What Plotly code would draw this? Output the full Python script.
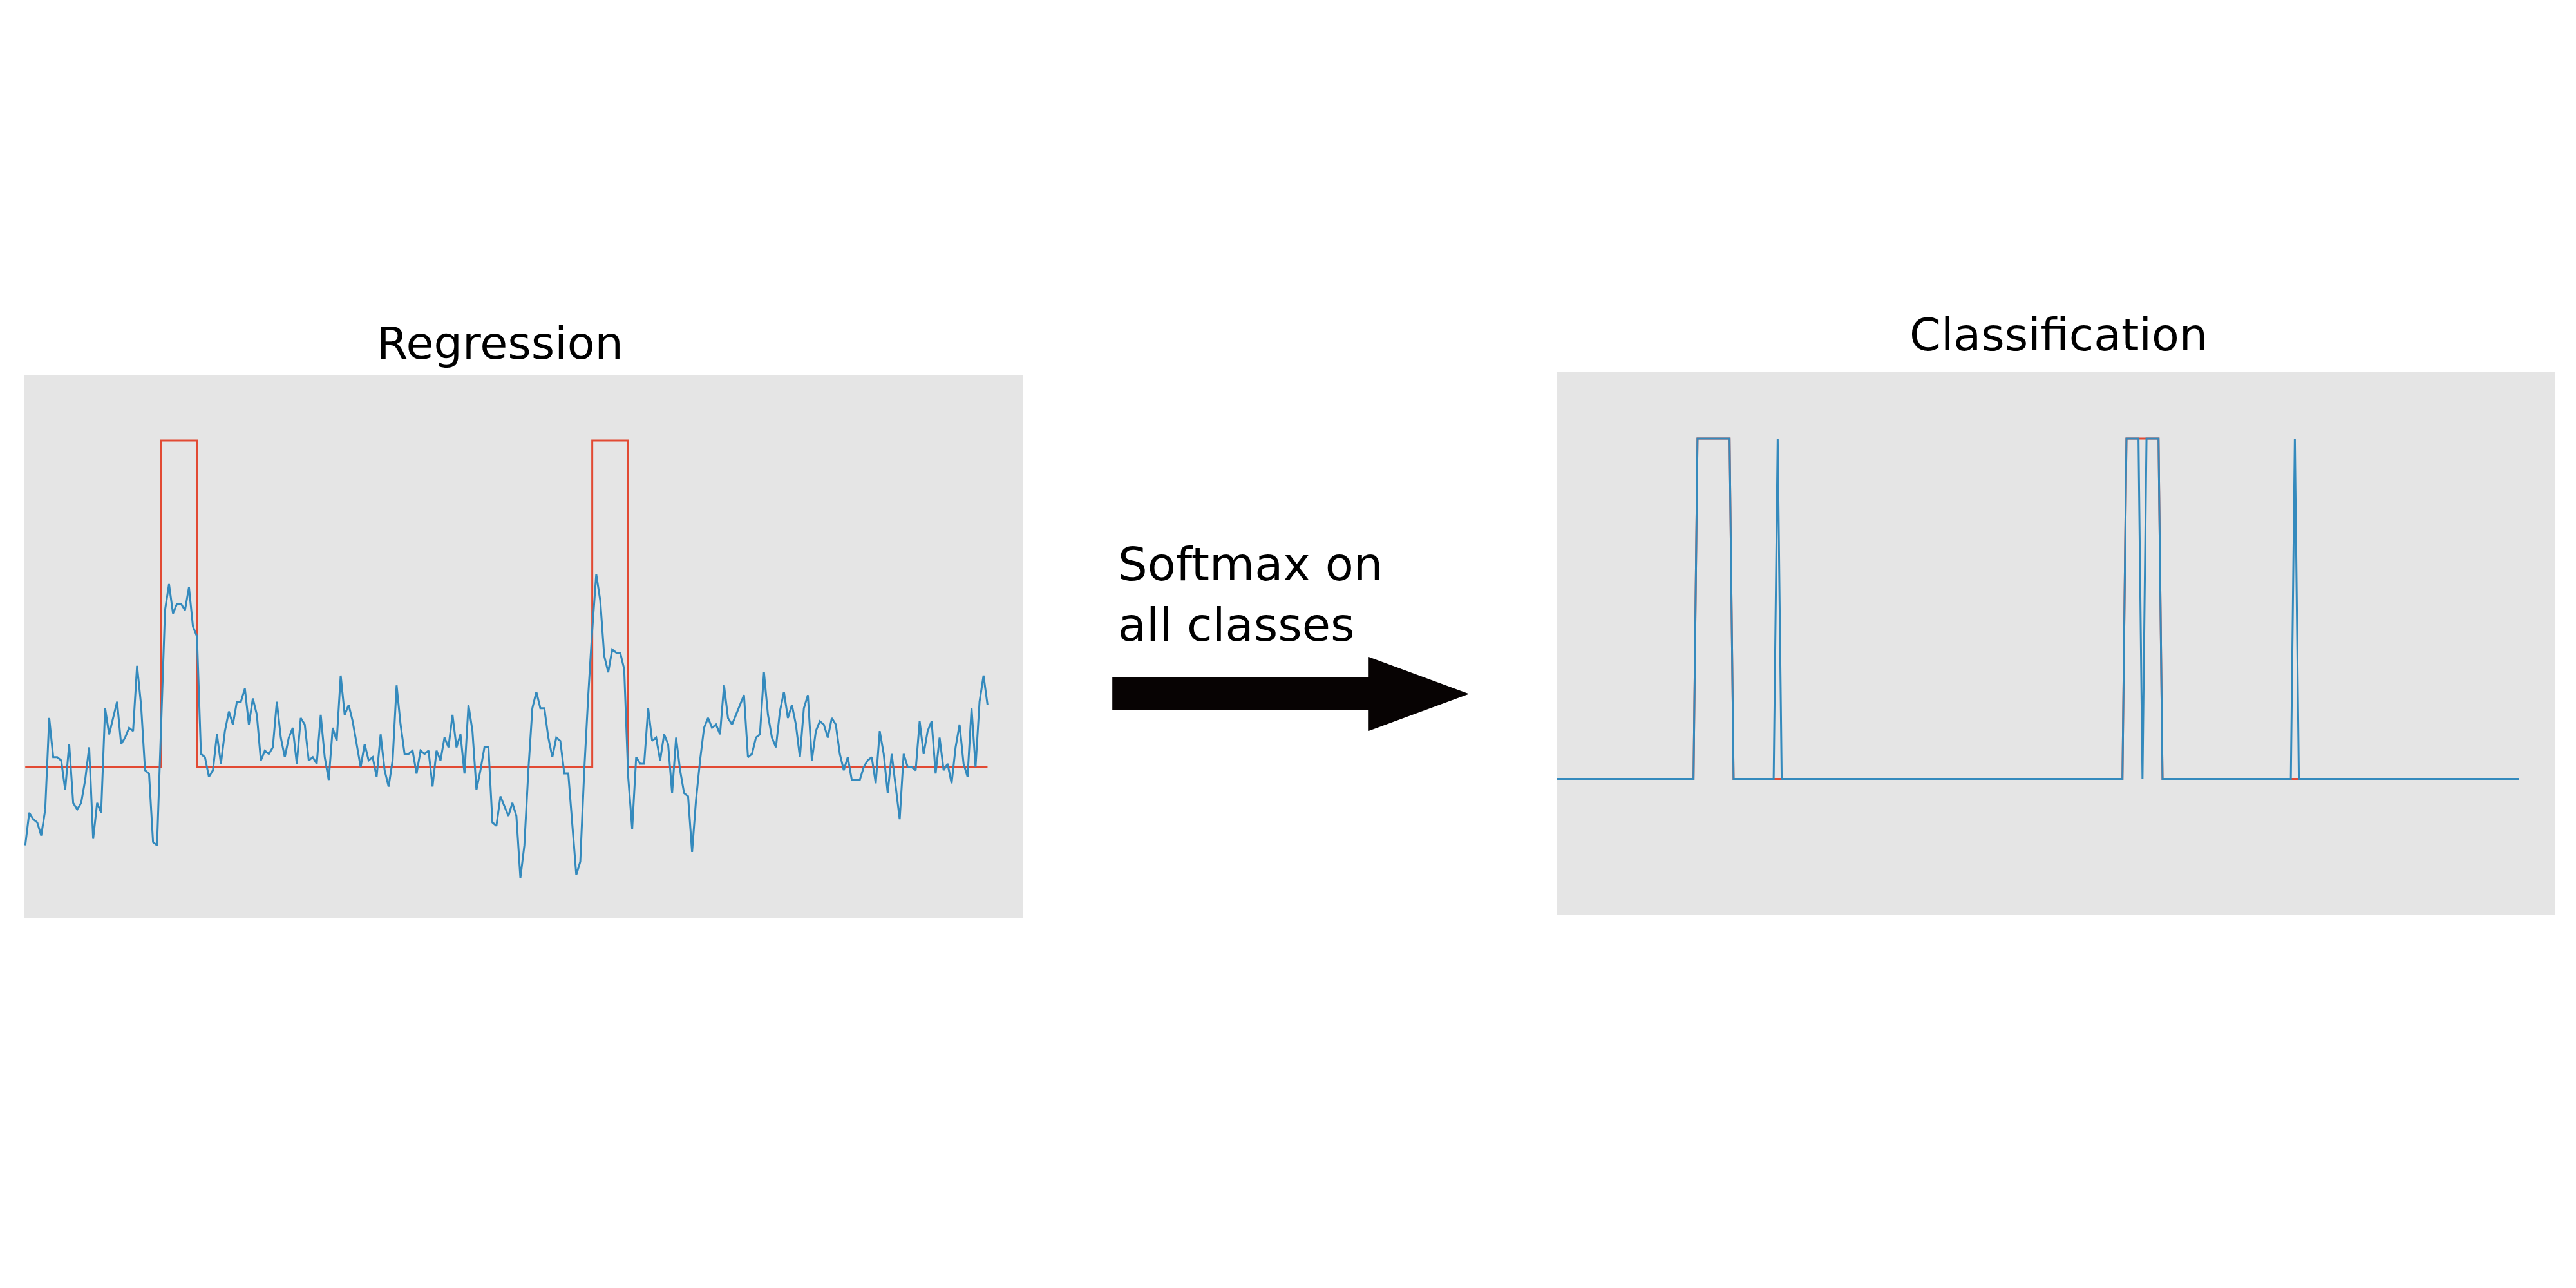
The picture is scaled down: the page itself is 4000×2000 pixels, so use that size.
import plotly.graph_objects as go

# regression output (blue), one value per time step
reg_pred = [
    -0.24, -0.14, -0.16, -0.17, -0.21, -0.13, 0.15, 0.03, 0.03, 0.02,
    -0.07, 0.07, -0.11, -0.13, -0.11, -0.04, 0.06, -0.22, -0.11, -0.14,
    0.18, 0.10, 0.15, 0.20, 0.07, 0.09, 0.12, 0.11, 0.31, 0.19,
    -0.01, -0.02, -0.23, -0.24, 0.12, 0.48, 0.56, 0.47, 0.50, 0.50,
    0.48, 0.55, 0.43, 0.40, 0.04, 0.03, -0.03, -0.01, 0.10, 0.01,
    0.11, 0.17, 0.13, 0.20, 0.20, 0.24, 0.13, 0.21, 0.16, 0.02,
    0.05, 0.04, 0.06, 0.20, 0.09, 0.03, 0.09, 0.12, 0.01, 0.15,
    0.13, 0.02, 0.03, 0.01, 0.16, 0.03, -0.04, 0.12, 0.08, 0.28,
    0.16,
    0.19, 0.14, 0.07, 0.00, 0.07, 0.02, 0.03, -0.03, 0.10, -0.01,
    -0.06, 0.02, 0.25, 0.13, 0.04, 0.04, 0.05, -0.02, 0.05, 0.04,
    0.05, -0.06, 0.05, 0.02, 0.09, 0.06, 0.16, 0.06, 0.10, -0.02,
    0.19, 0.11, -0.07, -0.01, 0.06, 0.06, -0.17, -0.18, -0.09, -0.12,
    -0.15, -0.11, -0.15, -0.34, -0.24, -0.01, 0.18, 0.23, 0.18, 0.18,
    0.09, 0.03, 0.09, 0.08, -0.02, -0.02, -0.18, -0.33, -0.29, -0.01,
    0.22, 0.42, 0.59, 0.51, 0.34, 0.29, 0.36, 0.35, 0.35, 0.30,
    -0.03, -0.19, 0.03, 0.01, 0.01, 0.18, 0.08, 0.09, 0.02, 0.10,
    0.07, -0.08, 0.09,
    -0.01, -0.08, -0.09, -0.26, -0.10, 0.02, 0.12, 0.15, 0.12, 0.13,
    0.10, 0.25, 0.15, 0.13, 0.16, 0.19, 0.22, 0.03, 0.04, 0.09,
    0.10, 0.29, 0.16, 0.09, 0.06, 0.17, 0.23, 0.15, 0.19, 0.13,
    0.03, 0.18, 0.22, 0.02, 0.11, 0.14, 0.13, 0.09, 0.15, 0.13,
    0.04, -0.01, 0.03, -0.04, -0.04, -0.04, 0.00, 0.02, 0.03, -0.05,
    0.11, 0.04, -0.08, 0.04, -0.06, -0.16, 0.04, 0.00, 0.00, -0.01,
    0.14, 0.04, 0.11, 0.14, -0.02, 0.09, -0.01, 0.01, -0.05, 0.06,
    0.13, 0.01, -0.03, 0.18, 0.00, 0.20, 0.28, 0.19,
]
# time steps where the regression target is 1
reg_target_on = [34, 35, 36, 37, 38, 39, 40, 41, 42,
                 142, 143, 144, 145, 146, 147, 148, 149, 150]

# classification
cls_len = 241
cls_target_on = [35, 36, 37, 38, 39, 40, 41, 42, 43,
                 142, 143, 144, 145, 146, 147, 148, 149, 150]
cls_pred_on = [35, 36, 37, 38, 39, 40, 41, 42, 43, 55,
               142, 143, 144, 145, 147, 148, 149, 150, 184]

BLUE = "#348ABD"
RED = "#E24A33"
BG = "#E5E5E5"

n = len(reg_pred)
reg_x = list(range(n))
reg_target = [1 if i in reg_target_on else 0 for i in reg_x]
cls_x = list(range(cls_len))
cls_target = [1 if i in cls_target_on else 0 for i in cls_x]
cls_pred = [1 if i in cls_pred_on else 0 for i in cls_x]

fig = go.Figure()
fig.add_trace(go.Scatter(x=reg_x, y=reg_target, mode="lines", line=dict(color=RED, width=3, shape="hv"),
                         xaxis="x", yaxis="y"))
fig.add_trace(go.Scatter(x=reg_x, y=reg_pred, mode="lines", line=dict(color=BLUE, width=3),
                         xaxis="x", yaxis="y"))
fig.add_trace(go.Scatter(x=cls_x, y=cls_target, mode="lines", line=dict(color=RED, width=3),
                         xaxis="x2", yaxis="y2"))
fig.add_trace(go.Scatter(x=cls_x, y=cls_pred, mode="lines", line=dict(color=BLUE, width=3),
                         xaxis="x2", yaxis="y2"))

ax = dict(showgrid=False, zeroline=False, showticklabels=False, ticks="", showline=False)
fig.update_layout(
    width=4000, height=2000,
    paper_bgcolor="white", plot_bgcolor=BG,
    showlegend=False,
    margin=dict(l=0, r=0, t=0, b=0),
    font=dict(family="DejaVu Sans", color="black"),
    xaxis=dict(ax, domain=[0.0075, 0.395], range=[-0.2, n - 1 + 8.8]),
    yaxis=dict(ax, domain=[0.291, 0.713], range=[-0.4635, 1.201]),
    xaxis2=dict(ax, domain=[0.6025, 0.990], range=[0, 249], anchor="y2"),
    yaxis2=dict(ax, domain=[0.2935, 0.7155], range=[-0.40, 1.197], anchor="x2"),
)

# second panel needs its own background
fig.add_shape(type="rect", xref="paper", yref="paper", x0=0.6025, x1=0.990, y0=0.2935, y1=0.7155,
              fillcolor=BG, line_width=0, layer="below")

fig.add_annotation(text="Regression", xref="paper", yref="paper", x=0.192, y=0.7375,
                   showarrow=False, font=dict(size=70), xanchor="center", yanchor="middle")
fig.add_annotation(text="Classification", xref="paper", yref="paper", x=0.797, y=0.744,
                   showarrow=False, font=dict(size=70), xanchor="center", yanchor="middle")
fig.add_annotation(text="Softmax on<br>all classes", xref="paper", yref="paper", x=0.4315, y=0.5425,
                   showarrow=False, font=dict(size=72), xanchor="left", yanchor="middle", align="left")

# block arrow
fig.add_shape(type="path", xref="paper", yref="paper",
              path="M 0.4298 0.4785 L 0.5293 0.4785 L 0.5293 0.494 L 0.5683 0.4653 "
                   "L 0.5293 0.4365 L 0.5293 0.453 L 0.4298 0.453 Z",
              fillcolor="#070303", line_width=0)

fig.write_html("out.html")
